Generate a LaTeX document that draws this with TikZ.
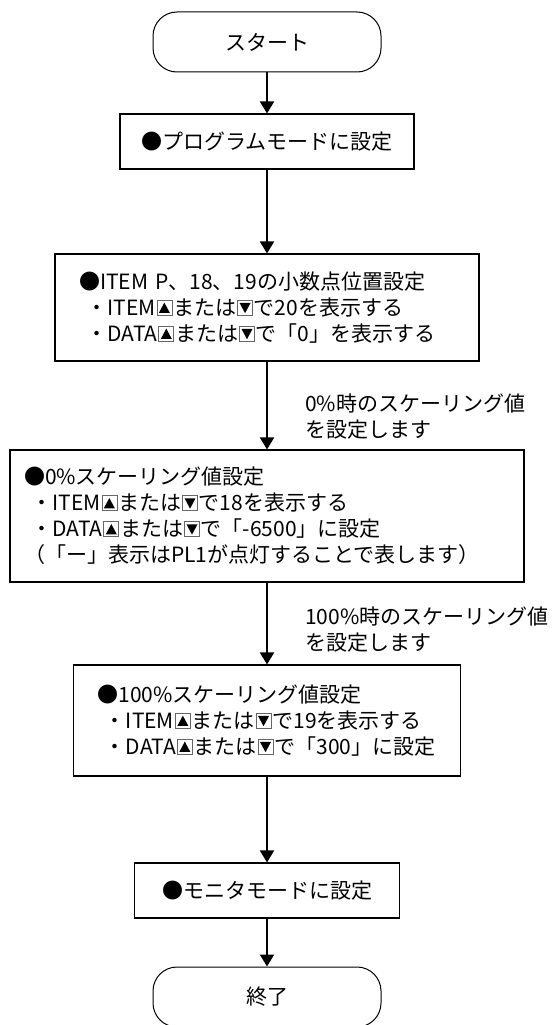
\documentclass[tikz,border=0pt]{standalone}
\usepackage{fontspec}
\setmainfont{Noto Sans CJK JP}
\usetikzlibrary{arrows.meta}

\newcommand{\keyup}{\kern1pt\tikz[baseline=0pt]{\draw[line width=0.7pt, draw=black!60] (0pt,0pt) rectangle (15pt,15pt); \fill (2pt,2.5pt) -- (13pt,2.5pt) -- (7.5pt,12.8pt) -- cycle;}\kern1pt}
\newcommand{\keydown}{\kern1pt\tikz[baseline=0pt]{\draw[line width=0.7pt, draw=black!60] (0pt,0pt) rectangle (15pt,15pt); \fill (2pt,12.5pt) -- (13pt,12.5pt) -- (7.5pt,2.2pt) -- cycle;}\kern1pt}

\tikzset{
	jpfont/.style={font=\fontsize{21pt}{26pt}\selectfont},
	termbox/.style={shape=rectangle, draw, line width=1pt, rounded corners=24pt, minimum width=228pt, minimum height=60pt, jpfont},
	procbox/.style={shape=rectangle, draw, line width=1.1pt, jpfont},
	flowarrow/.style={-{Triangle[length=12pt,width=14pt]}, line width=2pt},
	notetext/.style={anchor=west, align=left, inner sep=0pt, jpfont}
}

\begin{document}
\begin{tikzpicture}[x=1pt, y=-1pt]
	\useasboundingbox (0, 0) rectangle (559, 1025);
	% Steps:
	\node[termbox] (start) at (267, 42){スタート};
	\node[procbox, minimum width=294pt, minimum height=55pt] (prog) at (267, 141.5){●プログラムモードに設定};
	\node[procbox, align=left, inner xsep=24pt, text width=376pt, minimum height=107pt] (itemp) at (267, 307.5){●ITEM P、18、19の小数点位置設定\\\hspace*{0.35em}・ITEM\keyup または\keydown で20を表示する\\\hspace*{0.35em}・DATA\keyup または\keydown で「0」を表示する};
	\node[procbox, align=left, inner xsep=14pt, text width=486pt, minimum height=132pt] (scalezero) at (267, 516){●0\%スケーリング値設定\\\hspace*{0.35em}・ITEM\keyup または\keydown で18を表示する\\\hspace*{0.35em}・DATA\keyup または\keydown で「-6500」に設定\\（「ー」表示はPL1が点灯することで表します）};
	\node[procbox, align=left, inner xsep=24pt, text width=339pt, minimum height=111pt] (scalefull) at (267, 720.5){●100\%スケーリング値設定\\\hspace*{0.35em}・ITEM\keyup または\keydown で19を表示する\\\hspace*{0.35em}・DATA\keyup または\keydown で「300」に設定};
	\node[procbox, minimum width=265pt, minimum height=55pt] (monitor) at (267, 890.5){●モニタモードに設定};
	\node[termbox] (finish) at (267, 997){終了};
	% Notes beside the arrows:
	\node[notetext] (notezero) at (305, 416.5){0\%時のスケーリング値\\を設定します};
	\node[notetext] (notefull) at (305, 629.5){100\%時のスケーリング値\\を設定します};
	% Arrows:
	\draw[flowarrow] (start) -- (prog);
	\draw[flowarrow] (prog) -- (itemp);
	\draw[flowarrow] (itemp) -- (scalezero);
	\draw[flowarrow] (scalezero) -- (scalefull);
	\draw[flowarrow] (scalefull) -- (monitor);
	\draw[flowarrow] (monitor) -- (finish);
\end{tikzpicture}
\end{document}
